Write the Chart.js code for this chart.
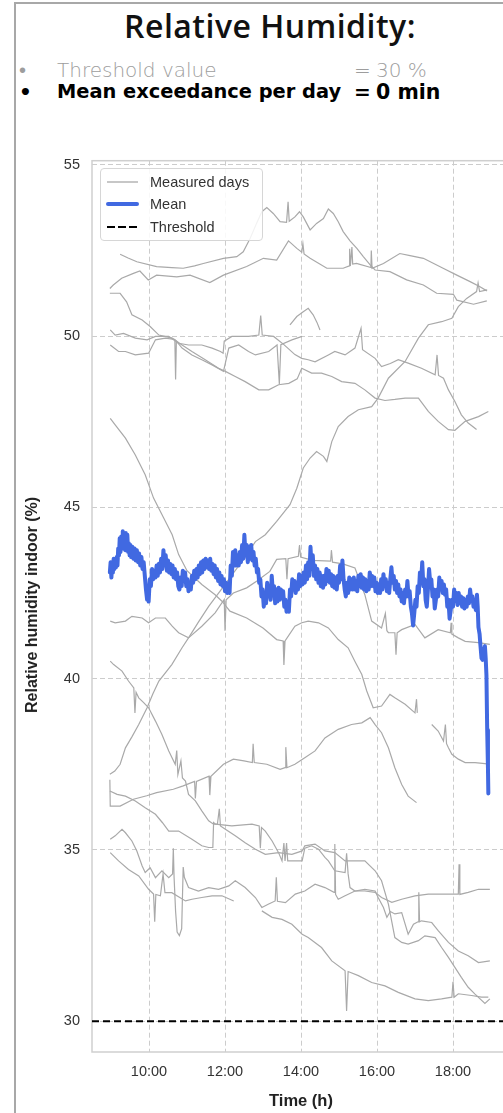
<!DOCTYPE html>
<html>
<head>
<meta charset="utf-8">
<script src="https://cdn.jsdelivr.net/npm/chart.js@4.4.0/dist/chart.umd.min.js"></script>
<style>
  html, body { margin: 0; padding: 0; overflow: hidden; background: #fff; }
  body { width: 503px; height: 1113px; position: relative; }
  #panel { position: absolute; left: 14px; top: 2px; width: 700px; height: 1300px;
           border-left: 2px solid #a8a8a8; border-top: 2px solid #a8a8a8; }
  #title { position: absolute; left: 0; top: 10px; width: 540px; text-align: center;
           font: 600 32px/32px "Open Sans", sans-serif; letter-spacing: 0.5px; color: #111; }
  .row { position: absolute; left: 0; width: 503px; height: 20px; font: 20px/20px "DejaVu Sans", sans-serif; }
  .row span { position: absolute; top: 0; white-space: nowrap; }
  .r1 { top: 60px; color: #9d9d9d; font-weight: 200; }
  .r2 { top: 82px; color: #000; font-weight: 700; }
  .r2 .lbl { font-size: 19.4px; }
  .dot { left: 19px; }
  .lbl { left: 57px; }
  .eq { left: 354px; }
  .val { left: 376px; }
  .r2 .val { font-size: 20.5px; }
  #chartBox { position: absolute; left: 0; top: 140px; width: 540px; height: 973px; }
  #legend { position: absolute; left: 100px; top: 28px; width: 161px; height: 71px;
            border: 1px solid #d6d6d6; border-radius: 4px; background: rgba(255,255,255,0.85);
            font: 14.5px "Liberation Sans", Arial, sans-serif; color: #333; }
  #legend .item { position: absolute; left: 0; height: 20px; width: 160px; }
  #legend svg { position: absolute; left: 5px; top: 0; }
  #legend .txt { position: absolute; left: 49px; top: 2px; }
  #yTitle { position: absolute; left: 32px; top: 465px; width: 0; height: 0; }
  #yTitle span { position: absolute; transform: translate(-50%, -50%) rotate(-90deg);
                 white-space: nowrap; font: bold 16px "Liberation Sans", Arial, sans-serif; color: #222; }
  #xTitle { position: absolute; left: 0; top: 951px; width: 602px; text-align: center;
            font: bold 16.5px "Liberation Sans", Arial, sans-serif; color: #222; }
</style>
</head>
<body>
<div id="panel"></div>
<div id="title">Relative Humidity:</div>
<div class="row r1"><span class="dot">•</span><span class="lbl">Threshold value</span><span class="eq">=</span><span class="val">30 %</span></div>
<div class="row r2"><span class="dot">•</span><span class="lbl">Mean exceedance per day</span><span class="eq">=</span><span class="val">0 min</span></div>

<div id="chartBox">
  <canvas id="humidityChart" width="540" height="973"></canvas>
  <div id="legend">
    <div class="item" style="top:3px"><svg width="34" height="20"><line x1="1" y1="10" x2="32" y2="10" stroke="#a9a9a9" stroke-width="1.3"/></svg><span class="txt">Measured days</span></div>
    <div class="item" style="top:25px"><svg width="34" height="20"><line x1="2" y1="10" x2="31" y2="10" stroke="#4169e1" stroke-width="4" stroke-linecap="round"/></svg><span class="txt">Mean</span></div>
    <div class="item" style="top:48px"><svg width="34" height="20"><line x1="1" y1="10" x2="32" y2="10" stroke="#000" stroke-width="2.2" stroke-dasharray="8,3"/></svg><span class="txt">Threshold</span></div>
  </div>
  <div id="yTitle"><span>Relative humidity indoor (%)</span></div>
  <div id="xTitle">Time (h)</div>
</div>

<script>
// time in decimal hours, relative humidity in %
const xTicks = [10, 12, 14, 16, 18];
const yTicks = [30, 35, 40, 45, 50, 55];
const thresholdValue = 30;

const day01 = [[9.24,52.39],[9.45,52.28],[9.68,52.17],[10.2,52.03],[10.6,52.0],[10.9,51.98],[11.2,52.05],[11.43,52.12],[11.96,52.27],[12.31,52.32],[12.48,52.46],[12.66,52.85],[12.83,53.29],[12.97,53.63],[13.1,53.75],[13.27,53.58],[13.45,53.34],[13.62,53.32],[13.66,53.92],[13.69,53.35],[13.84,53.48],[13.96,53.63],[14.06,53.48],[14.24,53.1],[14.41,53.29],[14.59,53.43],[14.72,53.71],[14.85,53.58],[14.98,53.34],[15.11,53.05],[15.29,52.78],[15.47,52.56],[15.64,52.32],[15.82,52.08],[15.95,51.93],[16.34,51.88],[16.78,51.64],[17.22,51.49],[17.57,51.25],[18.01,51.22],[18.1,51.05],[18.54,50.93],[18.89,51.03]];
const day02 = [[8.97,51.39],[9.06,51.49],[9.28,51.69],[9.59,51.83],[9.76,51.9],[9.98,51.64],[10.2,51.78],[10.73,51.73],[11.08,51.78],[11.6,51.56],[11.96,51.78],[12.57,52.03],[13.01,52.27],[13.36,52.22],[13.67,52.78],[13.89,52.56],[14.02,52.45],[14.05,52.7],[14.08,52.4],[14.24,52.27],[14.68,51.98],[15.11,51.98],[15.27,52.05],[15.28,52.55],[15.3,52.05],[15.34,52.6],[15.36,52.1],[15.46,52.12],[15.84,52.0],[15.85,52.5],[15.87,51.98],[16.17,52.12],[16.6,52.41],[16.87,52.35],[17.22,52.27],[17.74,51.98],[18.1,51.78],[18.45,51.59],[18.71,51.44],[18.89,51.32]];
const day03 = [[8.97,37.21],[9.1,37.3],[9.24,37.5],[9.38,37.98],[9.55,38.3],[9.73,38.66],[9.95,39.15],[10.1,39.55],[10.26,39.93],[10.6,40.41],[10.87,40.9],[11.04,41.19],[11.3,41.65],[11.57,42.11],[11.9,42.6],[12.2,43.05],[12.5,43.5],[12.8,44.0],[13.06,44.2],[13.36,44.59],[13.71,45.08],[13.89,45.56],[14.06,46.15],[14.24,46.44],[14.41,46.63],[14.59,46.49],[14.68,46.34],[14.81,46.92],[14.98,47.36],[15.24,47.65],[15.51,47.85],[15.86,47.94],[16.03,48.19],[16.3,48.77],[16.74,49.26],[17.09,49.94],[17.35,50.33],[17.7,50.42],[17.97,50.52],[18.14,50.86],[18.36,51.1],[18.62,51.3],[18.66,51.55],[18.7,51.3],[18.9,51.35]];
const day04 = [[13.71,50.33],[13.89,50.57],[14.05,50.7],[14.19,50.81],[14.32,50.62],[14.42,50.4],[14.5,50.18]];
const day05 = [[8.97,51.25],[9.24,51.25],[9.41,51.0],[9.55,50.62],[9.82,50.47],[10.03,50.28],[10.26,50.03],[10.61,49.94],[10.87,49.74],[11.13,49.55],[11.48,49.31],[11.83,49.06],[12.01,48.97],[12.27,48.82],[12.53,48.67],[12.89,48.43],[13.15,48.43],[13.41,48.58],[13.68,48.62],[13.9,48.75],[14.02,49.06],[14.28,48.92],[14.54,48.92],[14.81,48.82],[15.07,48.67],[15.42,48.62],[15.68,48.43],[15.95,48.19],[16.21,48.12],[16.47,48.15],[16.74,48.19],[17.09,48.19],[17.35,47.8],[17.61,47.51],[17.88,47.27],[18.05,47.25],[18.32,47.51],[18.67,47.65],[18.93,47.8]];
const day06 = [[8.98,50.18],[9.11,50.03],[9.33,50.08],[9.64,49.94],[9.95,49.89],[10.17,49.99],[10.52,49.99],[10.78,49.79],[11.04,49.74],[11.39,49.74],[11.66,49.65],[11.88,49.55],[11.95,49.5],[11.98,49.85],[12.18,49.99],[12.62,49.99],[12.89,50.03],[12.94,50.6],[12.98,50.03],[13.28,49.99],[13.55,49.75],[13.84,49.46],[14.02,49.35],[14.19,49.31],[14.37,49.25],[14.72,49.45],[14.89,49.55],[15.16,49.45],[15.42,49.65],[15.58,50.23],[15.62,49.6],[15.95,49.35],[16.12,49.11],[16.35,49.2],[16.56,49.31],[16.82,49.21],[17.17,49.06],[17.53,48.87],[17.58,49.45],[17.62,48.85],[17.75,48.77],[17.88,48.43],[18.05,48.09],[18.22,47.7],[18.4,47.46],[18.62,47.27]];
const day07 = [[8.98,49.74],[9.2,49.55],[9.38,49.55],[9.64,49.45],[9.99,49.5],[10.17,49.89],[10.43,49.94],[10.68,49.9],[10.7,48.73],[10.72,49.85],[10.87,49.65],[11.13,49.45],[11.39,49.31],[11.66,49.16],[11.96,48.97],[12.1,49.65],[12.36,49.74],[12.62,49.55],[12.8,49.45],[13.15,49.55],[13.37,49.74],[13.43,48.6],[13.47,49.75],[13.76,49.89],[14.03,49.99]];
const day08 = [[8.98,47.6],[9.11,47.41],[9.38,47.02],[9.64,46.53],[9.9,45.95],[10.12,45.27],[10.34,44.79],[10.61,44.2],[10.78,43.62],[11.0,43.15],[11.39,42.75],[11.74,42.45],[11.92,42.26],[12.13,41.97],[12.57,41.77],[13.0,41.48],[13.36,41.14],[13.53,41.1],[13.55,40.4],[13.58,41.1],[13.84,41.53],[14.02,41.63],[14.19,41.68],[14.46,41.63],[14.72,41.48],[14.98,41.14],[15.24,40.9],[15.42,40.5],[15.6,40.12],[15.73,39.64],[15.9,39.15],[16.12,39.2],[16.34,39.54],[16.47,39.44],[16.74,39.25],[17.0,39.0],[17.04,39.4],[17.06,39.0],[17.2,null],[17.44,38.66],[17.61,38.47],[17.75,38.18],[17.8,38.66],[17.83,38.1],[17.88,37.98],[17.97,37.79],[18.14,37.65],[18.32,37.55],[18.58,37.55],[18.84,37.52],[18.95,37.5]];
const day09 = [[8.98,41.68],[9.11,41.63],[9.38,41.68],[9.55,41.82],[9.82,41.77],[9.99,41.63],[10.17,41.77],[10.43,41.77],[10.61,41.53],[10.78,41.34],[11.04,41.19],[11.39,41.53],[11.74,41.92],[11.98,42.31],[12.0,41.4],[12.03,42.3],[12.22,42.5],[12.57,42.65],[12.83,42.84],[13.18,43.13],[13.36,43.48],[13.6,43.5],[13.63,42.9],[13.66,43.5],[13.93,43.57],[13.96,43.9],[13.99,43.55],[14.3,43.45],[14.78,43.43],[14.8,43.75],[14.83,43.4],[15.1,43.35],[15.42,43.23],[15.68,42.45],[15.86,41.68],[16.12,41.48],[16.22,41.9],[16.26,41.4],[16.3,41.34],[16.47,41.34],[16.5,40.7],[16.53,41.34],[16.65,41.43],[17.0,41.58],[17.26,41.19],[17.61,41.43],[17.93,41.34],[17.95,41.63],[17.97,41.3],[18.14,41.19],[18.32,41.09],[18.67,41.05],[18.97,41.0]];
const day10 = [[8.98,40.51],[9.07,40.41],[9.29,40.22],[9.46,39.93],[9.6,39.73],[9.63,39.0],[9.66,39.6],[9.73,39.44],[9.86,39.3],[9.99,39.15],[10.17,38.76],[10.34,38.37],[10.52,37.89],[10.69,37.5],[10.73,37.9],[10.76,37.2],[10.84,37.6],[10.88,37.1],[10.96,37.01],[11.04,36.62],[11.22,36.43],[11.39,36.14],[11.57,35.85],[11.7,35.75],[11.8,35.75],[11.85,36.2],[11.88,35.7],[12.01,35.6],[12.27,35.41],[12.53,35.21],[12.8,35.02],[13.06,34.87],[13.41,34.92],[13.76,34.87],[14.03,34.97],[14.1,35.12],[14.37,35.17],[14.63,34.97],[14.89,34.92],[15.16,34.68],[15.42,34.68],[15.68,34.68],[15.95,34.39],[16.12,34.1],[16.3,33.42],[16.47,32.44],[16.65,32.3],[16.82,32.25],[17.09,32.35],[17.26,32.49],[17.53,32.44],[17.7,32.15],[17.88,31.86],[18.05,31.57],[18.22,31.28],[18.4,30.99],[18.58,30.79],[18.84,30.52],[18.97,30.65]];
const day11 = [[8.97,37.05],[8.98,36.28],[9.24,36.28],[9.59,36.48],[9.94,36.58],[10.2,36.67],[10.64,36.77],[10.9,36.87],[11.2,37.0],[11.22,36.5],[11.25,37.0],[11.58,37.15],[11.6,36.6],[11.63,37.15],[11.96,37.5],[12.22,37.65],[12.5,37.6],[12.72,37.55],[12.74,38.1],[12.77,37.55],[13.1,37.5],[13.45,37.35],[13.58,37.4],[13.6,38.0],[13.63,37.4],[13.84,37.5],[14.1,37.69],[14.37,37.89],[14.63,38.27],[14.98,38.52],[15.33,38.66],[15.6,38.71],[15.82,38.86],[15.95,38.66],[16.12,38.42],[16.3,37.98],[16.47,37.4],[16.65,36.91],[16.82,36.57],[17.04,36.38]];
const day12 = [[8.97,36.72],[9.16,36.62],[9.38,36.57],[9.64,36.43],[9.9,36.23],[10.17,36.04],[10.35,35.8],[10.52,35.55],[10.78,35.55],[11.13,35.31],[11.39,35.12],[11.57,35.07],[11.68,35.07],[11.7,35.8],[11.75,35.75],[12.18,35.7],[12.71,35.75],[12.9,35.7],[12.93,35.05],[12.96,35.65],[13.06,35.55],[13.24,35.26],[13.41,34.92],[13.5,34.68],[13.55,35.2],[13.58,34.68],[13.62,35.2],[13.65,34.68],[14.03,34.68],[14.1,35.05],[14.28,35.12],[14.46,35.02],[14.63,34.78],[14.72,34.68],[14.89,34.39],[15.16,34.34],[15.2,34.9],[15.24,34.3],[15.29,33.9],[15.42,33.8],[15.68,33.85],[15.95,33.8],[16.03,33.61],[16.17,33.32],[16.26,33.03],[16.35,33.2],[16.47,33.13],[16.65,33.17],[16.82,32.54],[16.96,32.83],[17.08,32.9],[17.1,33.76],[17.12,32.9],[17.17,32.93],[17.44,32.88],[17.61,32.64],[17.88,32.3],[18.14,32.05],[18.4,31.91],[18.67,31.71],[18.97,31.76]];
const day13 = [[8.98,35.31],[9.11,35.41],[9.29,35.6],[9.38,35.5],[9.55,35.26],[9.68,34.97],[9.82,34.53],[9.9,34.34],[10.03,34.48],[10.17,34.19],[10.34,34.39],[10.52,34.19],[10.62,34.3],[10.64,35.05],[10.66,34.2],[10.7,33.2],[10.74,32.6],[10.8,32.5],[10.86,32.7],[10.9,34.5],[10.93,34.2],[11.04,33.9],[11.3,33.8],[11.57,33.9],[11.83,33.85],[12.1,33.95],[12.27,34.1],[12.53,33.9],[12.8,33.61],[12.97,33.32],[13.15,33.42],[13.32,33.51],[13.35,34.2],[13.38,33.5],[13.59,33.46],[13.85,33.71],[14.1,33.8],[14.37,34.0],[14.63,33.9],[14.87,33.76],[14.89,35.17],[14.91,33.7],[14.98,33.56],[15.16,33.66],[15.42,33.8],[15.68,33.8],[15.95,33.76],[16.12,33.61],[16.39,33.47],[16.65,33.56],[17.0,33.66],[17.35,33.71],[17.79,33.71],[18.14,33.71],[18.16,34.58],[18.18,33.7],[18.4,33.76],[18.67,33.85],[18.97,33.85]];
const day14 = [[8.98,34.92],[9.2,34.68],[9.46,34.43],[9.73,34.24],[9.99,33.85],[10.12,33.71],[10.15,32.9],[10.18,33.7],[10.3,33.66],[10.37,34.3],[10.42,33.75],[10.6,33.75],[10.96,33.51],[11.13,33.56],[11.39,33.61],[11.66,33.66],[11.92,33.66],[12.23,33.51],[12.6,null],[12.97,33.22],[13.24,33.03],[13.5,32.97],[13.76,32.83],[14.03,32.54],[14.19,32.44],[14.54,32.15],[14.81,31.76],[15.16,31.47],[15.2,30.3],[15.24,31.45],[15.51,31.33],[15.86,31.13],[16.21,31.03],[16.56,30.84],[17.0,30.65],[17.35,30.6],[17.7,30.65],[17.97,30.7],[18.0,31.15],[18.03,30.7],[18.14,30.8],[18.49,30.75],[18.75,30.7],[18.93,30.7]];

const meanValues = [[8.97,43.1],[8.99,43.4],[9.01,42.95],[9.03,43.3],[9.05,43.1],[9.07,43.5],[9.09,43.2],[9.11,43.45],[9.13,43.25],[9.15,43.55],[9.17,43.3],[9.19,43.8],[9.21,43.6],[9.23,44.1],[9.25,43.7],[9.27,44.15],[9.29,43.8],[9.31,44.3],[9.33,43.9],[9.35,44.0],[9.37,43.75],[9.39,44.25],[9.41,43.9],[9.43,44.2],[9.45,43.7],[9.47,43.95],[9.49,43.6],[9.51,43.9],[9.53,43.55],[9.56,43.85],[9.59,43.5],[9.62,43.8],[9.65,43.45],[9.68,43.75],[9.71,43.4],[9.74,43.65],[9.77,43.3],[9.8,43.55],[9.83,43.2],[9.86,43.4],[9.89,43.0],[9.92,42.6],[9.95,42.3],[9.97,42.7],[9.99,42.25],[10.02,42.9],[10.05,42.7],[10.08,43.2],[10.11,42.9],[10.14,43.15],[10.17,42.95],[10.2,43.3],[10.23,43.0],[10.26,43.35],[10.29,43.1],[10.32,43.5],[10.35,43.2],[10.38,43.75],[10.41,43.3],[10.44,43.6],[10.47,43.15],[10.5,43.45],[10.53,43.1],[10.56,43.35],[10.59,43.05],[10.62,43.3],[10.65,42.95],[10.68,43.2],[10.71,42.9],[10.74,43.1],[10.77,42.7],[10.8,42.6],[10.83,42.95],[10.86,42.7],[10.89,43.15],[10.92,42.85],[10.95,43.1],[10.98,42.7],[11.01,42.9],[11.04,42.55],[11.07,42.75],[11.1,42.6],[11.13,43.0],[11.16,42.8],[11.19,43.15],[11.22,42.9],[11.25,43.2],[11.28,42.95],[11.31,43.3],[11.34,43.05],[11.37,43.4],[11.4,43.1],[11.43,43.45],[11.46,43.2],[11.49,43.5],[11.52,43.25],[11.55,43.45],[11.58,43.2],[11.61,43.5],[11.64,43.15],[11.67,43.35],[11.7,43.05],[11.73,43.3],[11.76,42.95],[11.79,43.2],[11.82,42.85],[11.85,43.1],[11.88,42.75],[11.91,43.0],[11.94,42.7],[11.97,42.9],[12.0,42.55],[12.03,42.8],[12.06,42.5],[12.09,42.7],[12.12,42.5],[12.15,43.3],[12.18,43.0],[12.21,43.7],[12.24,43.3],[12.27,43.75],[12.3,43.3],[12.33,43.6],[12.36,43.3],[12.39,43.7],[12.42,43.4],[12.45,43.9],[12.48,43.5],[12.51,44.2],[12.54,43.6],[12.57,43.9],[12.6,43.4],[12.63,43.85],[12.66,43.5],[12.69,43.9],[12.72,43.45],[12.75,43.7],[12.78,43.3],[12.81,43.5],[12.84,43.1],[12.87,43.2],[12.9,42.8],[12.93,42.9],[12.96,42.4],[12.99,42.6],[13.02,42.1],[13.05,42.5],[13.08,42.2],[13.11,42.8],[13.14,42.4],[13.17,42.7],[13.2,42.3],[13.23,43.0],[13.26,42.5],[13.29,42.7],[13.32,42.2],[13.35,42.6],[13.38,42.25],[13.41,42.65],[13.44,42.3],[13.47,42.6],[13.5,42.35],[13.53,42.55],[13.56,42.1],[13.59,42.3],[13.62,41.95],[13.65,42.2],[13.68,41.95],[13.71,42.6],[13.74,42.4],[13.77,42.9],[13.8,42.6],[13.83,42.85],[13.86,42.5],[13.89,42.8],[13.92,42.6],[13.95,43.05],[13.98,42.7],[14.01,43.0],[14.04,42.75],[14.07,43.1],[14.1,42.8],[14.13,43.3],[14.16,42.9],[14.19,43.4],[14.22,43.0],[14.25,43.85],[14.28,43.2],[14.31,43.6],[14.34,43.0],[14.37,43.3],[14.4,42.9],[14.43,43.2],[14.46,42.8],[14.49,43.1],[14.52,42.7],[14.55,43.0],[14.58,42.65],[14.61,43.0],[14.64,42.75],[14.67,43.2],[14.7,42.85],[14.73,43.15],[14.76,42.8],[14.79,43.05],[14.82,42.7],[14.85,43.0],[14.88,42.65],[14.91,42.95],[14.94,42.6],[14.97,43.0],[15.0,42.8],[15.03,43.3],[15.06,42.9],[15.09,43.45],[15.12,42.9],[15.15,42.6],[15.18,42.4],[15.21,42.8],[15.24,42.5],[15.27,42.95],[15.3,42.6],[15.33,42.9],[15.36,42.6],[15.39,42.95],[15.42,42.6],[15.45,42.85],[15.48,42.55],[15.51,43.0],[15.54,42.7],[15.57,43.05],[15.6,42.65],[15.63,42.95],[15.66,42.6],[15.69,42.9],[15.72,42.55],[15.75,42.85],[15.78,42.6],[15.81,43.1],[15.84,42.7],[15.87,43.0],[15.9,42.7],[15.93,42.95],[15.96,42.55],[15.99,42.8],[16.02,42.5],[16.05,42.75],[16.08,42.5],[16.11,42.9],[16.14,42.6],[16.17,43.05],[16.2,42.7],[16.23,42.9],[16.26,42.55],[16.29,42.8],[16.32,42.5],[16.35,42.9],[16.38,43.25],[16.41,42.8],[16.44,43.0],[16.47,42.6],[16.5,42.85],[16.53,42.5],[16.56,42.75],[16.59,42.4],[16.62,42.6],[16.65,42.25],[16.68,42.5],[16.71,42.2],[16.74,42.6],[16.77,42.4],[16.8,42.85],[16.83,42.4],[16.86,42.55],[16.89,42.1],[16.92,41.9],[16.95,41.55],[16.98,41.9],[17.01,42.3],[17.04,42.1],[17.07,42.7],[17.1,42.5],[17.13,43.1],[17.16,42.8],[17.19,43.4],[17.22,42.7],[17.25,42.9],[17.28,42.3],[17.31,42.1],[17.34,42.6],[17.37,43.2],[17.4,42.8],[17.43,42.9],[17.46,42.4],[17.49,42.6],[17.52,42.05],[17.55,42.3],[17.58,42.6],[17.61,42.4],[17.64,42.95],[17.67,42.6],[17.7,42.85],[17.73,42.5],[17.76,42.75],[17.79,42.45],[17.82,42.6],[17.85,42.1],[17.88,42.3],[17.91,41.75],[17.94,42.0],[17.97,42.3],[18.0,42.1],[18.03,42.6],[18.06,42.3],[18.09,42.5],[18.12,42.15],[18.15,42.5],[18.18,42.2],[18.21,42.4],[18.24,42.1],[18.27,42.35],[18.3,42.05],[18.33,42.3],[18.36,42.1],[18.39,42.4],[18.42,42.2],[18.45,42.6],[18.48,42.3],[18.51,42.4],[18.54,42.1],[18.57,42.3],[18.6,42.0],[18.63,42.45],[18.65,42.1],[18.67,41.5],[18.7,41.3],[18.72,41.0],[18.75,40.6],[18.78,40.55],[18.81,40.8],[18.84,40.95],[18.86,40.6],[18.88,40.1],[18.9,38.5],[18.92,37.4],[18.93,36.65]];

const measuredDays = [day01, day02, day03, day04, day05, day06, day07, day08, day09, day10, day11, day12, day13, day14];

const xMin = 8.5, xMax = 19.5;
const yMin = 29.1, yMax = 55.12;

function toPoints(pairs) {
  return pairs.map(p => ({x: p[0], y: p[1]}));
}

const framePlugin = {
  id: "frame",
  beforeDatasetsDraw(chart) {
    const a = chart.chartArea;
    const c = chart.ctx;
    c.save();
    c.strokeStyle = "#cfcfcf";
    c.lineWidth = 1.5;
    c.strokeRect(a.left, a.top, a.right - a.left, a.bottom - a.top);
    c.restore();
  }
};

const datasets = [
  {
    label: "Mean",
    data: toPoints(meanValues),
    borderColor: "#4169e1",
    borderWidth: 4,
    borderJoinStyle: "round",
    borderCapStyle: "round",
    order: 0
  },
  {
    label: "Threshold",
    data: [{x: xMin, y: thresholdValue}, {x: xMax, y: thresholdValue}],
    borderColor: "#000",
    borderWidth: 2,
    borderDash: [7, 4],
    order: 1
  }
];
measuredDays.forEach((d, i) => {
  datasets.push({
    label: i === 0 ? "Measured days" : "",
    data: toPoints(d),
    borderColor: "#a9a9a9",
    borderWidth: 1.2,
    order: 2
  });
});

Chart.defaults.font.family = "'Liberation Sans', Arial, sans-serif";

const ctx = document.getElementById("humidityChart").getContext("2d");
const chart = new Chart(ctx, {
  type: "line",
  data: { datasets: datasets },
  options: {
    responsive: false,
    animation: false,
    devicePixelRatio: 1,
    spanGaps: false,
    elements: { point: { radius: 0 }, line: { tension: 0 } },
    layout: { padding: { top: 19, right: 30, left: 0, bottom: 0 } },
    scales: {
      x: {
        type: "linear",
        min: xMin,
        max: xMax,
        afterBuildTicks: s => { s.ticks = xTicks.map(v => ({value: v})); },
        afterFit: s => { s.height = 61; },
        grid: { color: "#cccccc", lineWidth: 1, drawTicks: false },
        border: { display: false, dash: [5, 3] },
        ticks: {
          padding: 11,
          color: "#333",
          font: { size: 14.5 },
          maxRotation: 0,
          callback: v => v + ":00"
        }
      },
      y: {
        min: yMin,
        max: yMax,
        afterBuildTicks: s => { s.ticks = yTicks.map(v => ({value: v})); },
        afterFit: s => { s.width = 92; },
        grid: { color: "#cccccc", lineWidth: 1, drawTicks: false },
        border: { display: false, dash: [5, 3] },
        ticks: {
          padding: 12,
          color: "#333",
          font: { size: 14.5 }
        }
      }
    },
    plugins: {
      legend: { display: false },
      tooltip: { enabled: false }
    }
  },
  plugins: [framePlugin]
});
</script>
</body>
</html>
